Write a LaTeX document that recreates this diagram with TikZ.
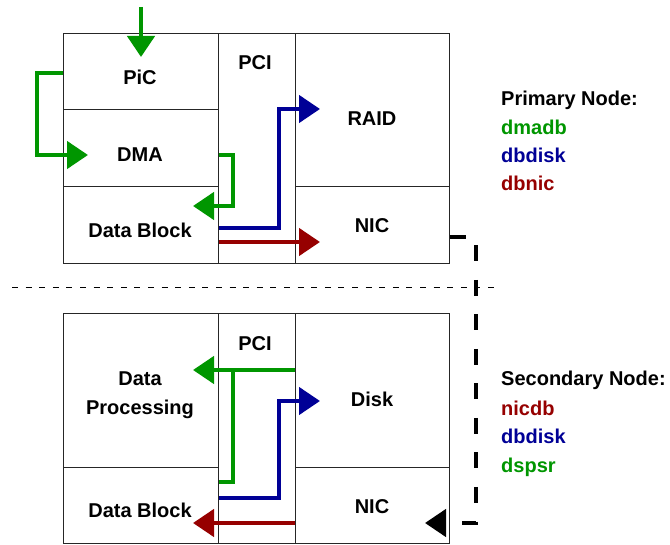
\documentclass[tikz,border=0pt]{standalone}
\usepackage{fontspec}
\setmainfont{Liberation Sans}
\usetikzlibrary{arrows.meta,calc}
\definecolor{fgreen}{RGB}{0,150,0}
\definecolor{fblue}{RGB}{0,0,150}
\definecolor{fred}{RGB}{150,0,0}
\begin{document}
\begin{tikzpicture}[x=1pt,y=-1pt,
  cell/.style={draw=black!85,line width=1pt,inner sep=0pt,anchor=north west},
  txt/.style={font=\fontsize{20}{29}\selectfont\bfseries,inner sep=0pt,text height=14.3pt,text depth=0pt},
  mtxt/.style={font=\fontsize{20}{29}\selectfont\bfseries,inner sep=0pt,align=center,anchor=north},
  leg/.style={txt,anchor=west},
  flow/.style={line width=4.5pt,-{Triangle[length=21pt,width=27pt]}},
  plain/.style={line width=4.5pt},
  link/.style={line width=4.5pt,dash pattern=on 16pt off 18.5pt,-{Triangle[length=21pt,width=27pt]}},
  sep/.style={line width=1pt,dash pattern=on 6pt off 7.6pt}]
\useasboundingbox (0,0) rectangle (670,545);
% ---------- primary node ----------
\node[cell,minimum width=155pt,minimum height=76pt] (pic) at (63,33) {};
\node[cell,minimum width=155pt,minimum height=77pt] (dma) at (63,109) {};
\node[cell,minimum width=155pt,minimum height=77pt] (db1) at (63,186) {};
\node[cell,minimum width=77pt,minimum height=230pt] (pci1) at (218,33) {};
\node[cell,minimum width=154pt,minimum height=153pt] (raid) at (295,33) {};
\node[cell,minimum width=154pt,minimum height=77pt] (nic1) at (295,186) {};
\node[txt] (picT) at (140,77) {PiC};
\node[txt] (dmaT) at (140,154) {DMA};
\node[txt] (db1T) at (140,230) {Data Block};
\node[txt] (pci1T) at (255,62) {PCI};
\node[txt] (raidT) at (372,118) {RAID};
\node[txt] (nic1T) at (372,225) {NIC};
% ---------- secondary node ----------
\node[cell,minimum width=155pt,minimum height=154pt] (dp) at (63,313) {};
\node[cell,minimum width=155pt,minimum height=76pt] (db2) at (63,467) {};
\node[cell,minimum width=77pt,minimum height=230pt] (pci2) at (218,313) {};
\node[cell,minimum width=154pt,minimum height=154pt] (disk) at (295,313) {};
\node[cell,minimum width=154pt,minimum height=76pt] (nic2) at (295,467) {};
\node[mtxt] (dpT) at (140,371.8) {Data\\Processing};
\node[txt] (db2T) at (140,510) {Data Block};
\node[txt] (pci2T) at (255,343) {PCI};
\node[txt] (diskT) at (372,399) {Disk};
\node[txt] (nic2T) at (372,506) {NIC};
% ---------- legend ----------
\node[leg] (l1) at (501,98) {Primary Node:};
\node[leg,text=fgreen] (l2) at (501,127) {dmadb};
\node[leg,text=fblue] (l3) at (501,155) {dbdisk};
\node[leg,text=fred] (l4) at (501,183) {dbnic};
\node[leg] (l5) at (501,378) {Secondary Node:};
\node[leg,text=fred] (l6) at (501,408) {nicdb};
\node[leg,text=fblue] (l7) at (501,436) {dbdisk};
\node[leg,text=fgreen] (l8) at (501,465) {dspsr};
% ---------- separator ----------
\coordinate (sepL) at (12,288);
\coordinate (sepR) at (500,288);
\draw[sep] (sepL) -- (sepR);
% ---------- coordinates ----------
\coordinate (inTop) at (141,7);
\coordinate (inTip) at (141,57);
\coordinate (picW) at (pic.west |- 0,73);
\coordinate (dmaIn) at (88,155);
\coordinate (dmaE) at (dma.east |- 0,155);
\coordinate (db1In) at (193,206);
\coordinate (db1Eb) at (db1.east |- 0,228);
\coordinate (raidIn) at (320,109);
\coordinate (db1Er) at (db1.east |- 0,242);
\coordinate (nic1In) at (320,242);
\coordinate (nic1E) at (nic1.east |- 0,237);
\coordinate (nic2In) at (425,523);
\coordinate (diskW) at (disk.west |- 0,370);
\coordinate (dpIn) at (193,370);
\coordinate (db2Eg) at (db2.east |- 0,482);
\coordinate (db2Eb) at (db2.east |- 0,498);
\coordinate (diskIn) at (320,401);
\coordinate (nic2W) at (nic2.west |- 0,523);
\coordinate (db2In) at (193,523);
% ---------- primary flows ----------
\draw[flow,fgreen] (inTop) -- (inTip);
\draw[flow,fgreen] (picW) -- (37,73) -- (37,155) -- (dmaIn);
\draw[flow,fgreen] (dmaE) -- (233,155) -- (233,206) -- (db1In);
\draw[flow,fblue] (db1Eb) -- (279,228) -- (279,109) -- (raidIn);
\draw[flow,fred] (db1Er) -- (nic1In);
% ---------- link between nodes ----------
\draw[link,black] (nic1E) -- (476,237) -- (476,523) -- (nic2In);
% ---------- secondary flows ----------
\draw[plain,fgreen] (diskW) -- (233,370);
\draw[flow,fgreen] (db2Eg) -- (233,482) -- (233,370) -- (dpIn);
\draw[flow,fblue] (db2Eb) -- (279,498) -- (279,401) -- (diskIn);
\draw[flow,fred] (nic2W) -- (db2In);
\end{tikzpicture}
\end{document}
